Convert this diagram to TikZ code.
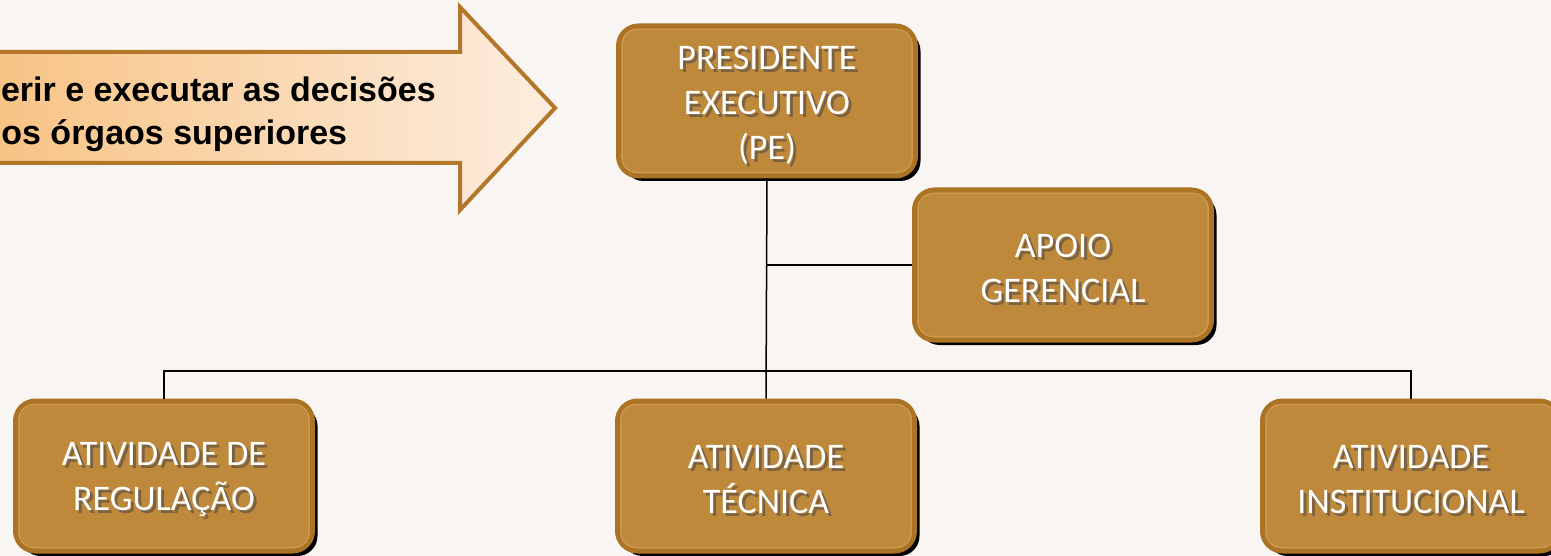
\documentclass[tikz,border=0pt]{standalone}
\usepackage{fontspec}
\setmainfont{Carlito}
\newfontfamily\arialf{Liberation Sans}
\usetikzlibrary{shadows}
\definecolor{bg}{HTML}{F8F5F2}
\definecolor{boxfill}{HTML}{BF893B}
\definecolor{boxedge}{HTML}{AC7324}
\definecolor{bevelc}{HTML}{CB984C}
\definecolor{txtsh}{HTML}{7A6242}
\definecolor{arrowedge}{HTML}{B3772A}
\definecolor{arrowL}{HTML}{F8C384}
\definecolor{arrowR}{HTML}{FDEDE0}
\newcommand\sht[1]{\makebox[0pt][l]{\hspace{3pt}\raisebox{-3pt}{\color{txtsh}#1}}#1}
\newcommand\topstrut{\rule{0pt}{34pt}}
\tikzset{
  orgbox/.style={draw=boxedge, line width=5pt, fill=boxfill, rounded corners=20pt,
    minimum width=297pt, minimum height=150pt, text=white, align=center,
    font=\fontsize{36}{45}\selectfont, inner sep=0pt,
    drop shadow={shadow xshift=5pt, shadow yshift=-5pt, fill=black, opacity=1}},
  bevel/.style={draw=bevelc, line width=1.5pt, rounded corners=15pt},
  conn/.style={draw=black, line width=1.5pt},
  arrowtext/.style={align=left, inner sep=0pt, text=black,
    font=\arialf\bfseries\fontsize{34}{43}\selectfont}
}
\begin{document}
\begin{tikzpicture}[x=1pt,y=-1pt]
\useasboundingbox (0,0) rectangle (1551,556);
\clip (0,0) rectangle (1551,556);
\fill[bg] (0,0) rectangle (1551,556);
% arrow
\draw[arrowedge, line width=4pt, left color=arrowL, right color=arrowR, line join=miter]
  (-10,52) -- (460,52) -- (460,7) -- (555,108) -- (460,210) -- (460,163) -- (-10,163) -- cycle;
\node[arrowtext, anchor=north east] (arrowtxt) at (436,77)
  {Gerir e executar as decisões\\\hspace*{6pt}dos órgaos superiores};
% boxes
\node[orgbox] (pe) at (767,101) {\topstrut\sht{PRESIDENTE}\\\sht{EXECUTIVO}\\\sht{(PE)}};
\node[orgbox] (apoio) at (1063,265) {\topstrut\sht{APOIO}\\\sht{GERENCIAL}};
\node[orgbox] (reg) at (164,476) {\topstrut\sht{ATIVIDADE DE}\\\sht{REGULAÇÃO}};
\node[orgbox] (tec) at (766,476) {\topstrut\sht{ATIVIDADE}\\\sht{TÉCNICA}};
\node[orgbox] (inst) at (1411,476) {\topstrut\sht{ATIVIDADE}\\\sht{INSTITUCIONAL}};
\foreach \n in {pe,apoio,reg,tec,inst}
  \draw[bevel] ([xshift=6pt,yshift=-6pt]\n.north west) rectangle ([xshift=-6pt,yshift=6pt]\n.south east);
% connectors
\coordinate (busl) at (163,371);
\draw[conn] (pe.south) -- (tec.north);
\draw[conn] (apoio.west) -- (apoio.west -| pe.south);
\draw[conn] (reg.north) -- (reg.north |- busl) -- (inst.north |- busl) -- (inst.north);
\end{tikzpicture}
\end{document}
